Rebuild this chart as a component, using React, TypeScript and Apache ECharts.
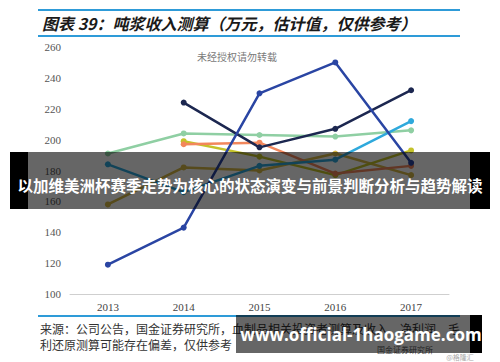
import React, { useEffect, useRef } from "react";
import * as echarts from "echarts";

const years = ["2013", "2014", "2015", "2016", "2017"];
const yTicks = { min: 100, max: 260, interval: 20 };
const royalBlue = [119, 143, 230, 250, 185];
const navy = [null, 224, 195, 207, 232];
const green = [191, 204, 203, 202, 206];
const orange = [null, 197, 198, 178, 183];
const lightBlue = [184, 166, 183, 187, 212];
const olive = [null, 199, 189, 177, 193];
const gold = [158, 182, 180, 191, 177];

const titleText = "图表 39：吨浆收入测算（万元，估计值，仅供参考）";
const watermark = "未经授权请勿转载";
const sourceLine1 = "来源：公司公告，国金证券研究所，血制品相关投资者测算及收入、净利润、毛";
const sourceLine2 = "利还原测算可能存在偏差，仅供参考";
const bannerText = "以加维美洲杯赛季走势为核心的状态演变与前景判断分析与趋势解读";
const urlText = "www.official-1haogame.com";

const seriesDefs = [
  { name: "A", data: green, color: "#8fcfa3" },
  { name: "B", data: gold, color: "#d6b846" },
  { name: "C", data: olive, color: "#c4c22a" },
  { name: "D", data: orange, color: "#f2875c" },
  { name: "E", data: lightBlue, color: "#2fa9dc" },
  { name: "F", data: navy, color: "#1c2750" },
  { name: "G", data: royalBlue, color: "#2a45a3" },
];

export default function App() {
  const ref = useRef<HTMLDivElement>(null);
  useEffect(() => {
    if (!ref.current) return;
    const chart = echarts.init(ref.current, null, { renderer: "svg" });
    const serif = "'Liberation Serif', 'DejaVu Serif', serif";
    const cjk = "'Noto Sans CJK SC', sans-serif";
    chart.setOption({
      animation: false,
      backgroundColor: "#ffffff",
      grid: { left: 70, right: 51, top: 47, bottom: 68 },
      xAxis: {
        type: "category",
        data: years,
        boundaryGap: true,
        axisTick: { show: false },
        axisLine: { lineStyle: { color: "#cfcfcf", width: 1 } },
        axisLabel: { color: "#444", fontSize: 11, fontFamily: serif, margin: 7 },
      },
      yAxis: {
        type: "value",
        min: yTicks.min,
        max: yTicks.max,
        interval: yTicks.interval,
        splitLine: { show: false },
        axisLine: { show: false },
        axisTick: { show: false },
        axisLabel: { color: "#555", fontSize: 11, fontFamily: serif, margin: 9 },
      },
      series: seriesDefs.map((s) => ({
        name: s.name,
        type: "line",
        data: s.data,
        symbol: "circle",
        symbolSize: 6,
        connectNulls: false,
        lineStyle: { color: s.color, width: 2.5 },
        itemStyle: { color: s.color },
      })),
      graphic: [
        { type: "line", shape: { x1: 38, y1: 10, x2: 460, y2: 10 }, style: { stroke: "#2e9bd8", lineWidth: 2 } },
        { type: "line", shape: { x1: 38, y1: 36, x2: 460, y2: 36 }, style: { stroke: "#2e9bd8", lineWidth: 2 } },
        {
          type: "text", x: 42, y: 23,
          style: { text: titleText, fill: "#1a1a1a", fontSize: 16, fontWeight: "bold", fontStyle: "italic", fontFamily: cjk, align: "left", verticalAlign: "middle" },
        },
        {
          type: "text", x: 237, y: 56,
          style: { text: watermark, fill: "#7a7a7a", fontSize: 10, fontFamily: cjk, align: "center", verticalAlign: "middle" },
        },
        { type: "line", shape: { x1: 38, y1: 316, x2: 460, y2: 316 }, style: { stroke: "#2e9bd8", lineWidth: 2 } },
        {
          type: "text", x: 40, y: 328,
          style: { text: sourceLine1, fill: "#333", fontSize: 12, fontFamily: cjk, align: "left", verticalAlign: "middle" },
        },
        {
          type: "text", x: 40, y: 344,
          style: { text: sourceLine2, fill: "#333", fontSize: 12, fontFamily: cjk, align: "left", verticalAlign: "middle" },
        },
        {
          type: "text", x: 405, y: 349,
          style: { text: "国金证券研究所", fill: "#555", fontSize: 8, fontFamily: cjk, align: "center", verticalAlign: "middle" },
        },
        {
          type: "text", x: 460, y: 357,
          style: { text: "@格隆汇", fill: "#aaa", fontSize: 7, fontFamily: cjk, align: "center", verticalAlign: "middle" },
        },
        { type: "rect", z: 100, shape: { x: 10, y: 152, width: 480, height: 57 }, style: { fill: "rgba(0,0,0,0.6)" } },
        { type: "rect", z: 100, shape: { x: 10, y: 152, width: 18, height: 57 }, style: { fill: "#000" } },
        { type: "rect", z: 100, shape: { x: 470, y: 152, width: 20, height: 57 }, style: { fill: "#000" } },
        {
          type: "text", z: 101, x: 250, y: 185,
          style: { text: bannerText, fill: "#fff", fontSize: 15.5, fontWeight: "bold", fontFamily: cjk, align: "center", verticalAlign: "middle" },
        },
        { type: "rect", z: 100, shape: { x: 236, y: 315, width: 246, height: 38 }, style: { fill: "rgba(0,0,0,0.6)" } },
        { type: "rect", z: 100, shape: { x: 470, y: 315, width: 12, height: 38 }, style: { fill: "#000" } },
        {
          type: "text", z: 101, x: 361, y: 334,
          style: { text: urlText, fill: "#fff", fontSize: 17, fontWeight: "bold", fontFamily: "'Open Sans', 'DejaVu Sans', sans-serif", align: "center", verticalAlign: "middle" },
        },
      ],
    });
    return () => chart.dispose();
  }, []);
  return <div ref={ref} style={{ position: "absolute", left: 0, top: 0, width: 500, height: 362 }} />;
}
